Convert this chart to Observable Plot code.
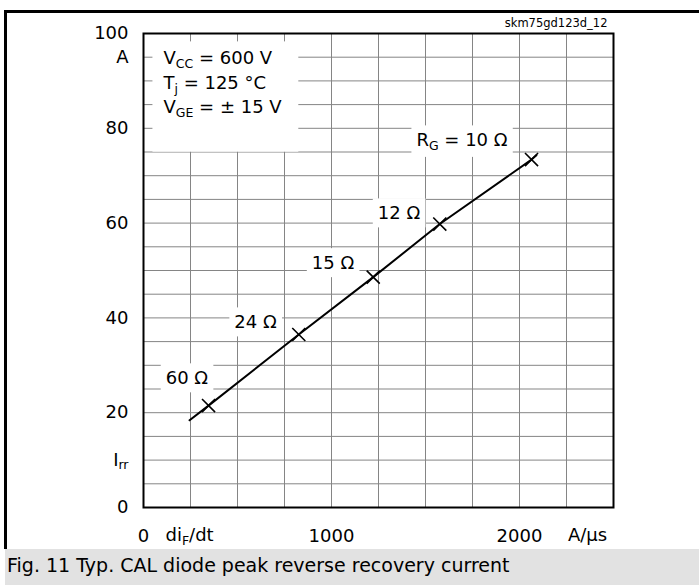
<!DOCTYPE html>
<html><head><meta charset="utf-8">
<script src="https://cdn.jsdelivr.net/npm/d3@7"></script>
<script src="https://cdn.jsdelivr.net/npm/@observablehq/plot@0.6"></script>
<style>
body{margin:0;background:#fff;}
#wrap{position:relative;width:699px;height:585px;overflow:hidden;font-family:"DejaVu Sans",sans-serif;}
#chart{position:absolute;left:0;top:0;}
#topline{position:absolute;left:4px;top:9.5px;width:695px;height:3px;background:#000;}
#leftline{position:absolute;left:4px;top:9.5px;width:2.5px;height:539.5px;background:#000;}
#caption{position:absolute;left:5px;top:549px;width:692px;height:36px;background:#e2e2e2;font-size:19px;line-height:33px;padding-left:2px;color:#000;white-space:nowrap;}
</style>
</head><body>
<div id="wrap">
  <div id="chart"></div>
  <div id="topline"></div>
  <div id="leftline"></div>
  <div id="caption">Fig. 11 Typ. CAL diode peak reverse recovery current</div>
</div>
<script>
// ---- data ----
const xTicks = [0, 1000, 2000];
const yTicks = [0, 20, 40, 60, 80, 100];
const xGrid = d3.range(0, 2501, 250);
const yGrid = d3.range(0, 101, 5);

// curve I_rr vs di_F/dt
const curveX = [245, 346, 826, 1222, 1576, 2064, 2090];
const curveY = [18.4, 21.5, 36.5, 48.6, 59.8, 73.4, 74.3];

// measured points (R_G values)
const rgPointX = [346, 826, 1222, 1576, 2064];
const rgPointY = [21.5, 36.5, 48.6, 59.8, 73.4];
const rgLabels = ["60 Ω", "24 Ω", "15 Ω", "12 Ω", "R_{G} = 10 Ω"];
const rgLabelX = [231, 596, 1008, 1359, 1694];
const rgLabelY = [27.2, 39.0, 51.5, 62.0, 77.4];

// conditions
const condLabels = ["V_{CC} = 600 V", "T_{j} = 125 °C", "V_{GE} = ± 15 V"];
const condX = [106, 106, 106];
const condY = [94.7, 89.5, 84.4];

// axis units
const yUnitLabels = ["A", "I_{rr}"];
const yUnitPos = [95, 10];
const xUnitLabels = ["di_{F}/dt", "A/µs"];
const xUnitPos = [245, 2362];

const docId = ["skm75gd123d_12"];

// ---- chart ----
const W = 699, H = 548;
const FS = 18;
const plot = Plot.plot({
  width: W, height: H,
  marginLeft: 143, marginRight: 86, marginTop: 33, marginBottom: 41,
  style: {fontFamily: "DejaVu Sans, sans-serif", fontSize: FS + "px", color: "#000", background: "transparent"},
  x: {domain: [0, 2500]},
  y: {domain: [0, 100]},
  marks: [
    Plot.ruleX(xGrid, {x: d => d, stroke: "#858585", strokeWidth: 1}),
    Plot.ruleY(yGrid, {y: d => d, stroke: "#858585", strokeWidth: 1}),
    Plot.text(condLabels, {x: condX, y: condY, text: d => d, textAnchor: "start", fontSize: FS, fill: "#000"}),
    Plot.text(rgLabels, {x: rgLabelX, y: rgLabelY, text: d => d, textAnchor: "middle", fontSize: FS, fill: "#000"}),
    Plot.line(curveX.map((x, i) => ({x, y: curveY[i]})), {x: "x", y: "y", stroke: "#000", strokeWidth: 2}),
    Plot.dot(rgPointX.map((x, i) => ({x, y: rgPointY[i]})), {x: "x", y: "y", symbol: "times", r: 6, stroke: "#000", strokeWidth: 1.6}),
    Plot.frame({stroke: "#000", strokeWidth: 2}),
    Plot.axisY(yTicks, {tickSize: 0, tickPadding: 15, fontSize: FS, label: null, tickFormat: "d"}),
    Plot.axisX(xTicks, {tickSize: 0, tickPadding: 22, fontSize: FS, label: null, tickFormat: "d"}),
    Plot.text(yUnitLabels, {y: yUnitPos, text: d => d, frameAnchor: "left", textAnchor: "end", dx: -15, fontSize: FS, fill: "#000"}),
    Plot.text(xUnitLabels, {x: xUnitPos, text: d => d, frameAnchor: "bottom", lineAnchor: "top", dy: 21, fontSize: FS, fill: "#000"}),
    Plot.text(docId, {text: d => d, frameAnchor: "top-right", textAnchor: "end", dx: -6, dy: -15, fontSize: 11.5, fill: "#000"})
  ]
});
document.getElementById("chart").append(plot);

const svg = plot.tagName.toLowerCase() === "svg" ? plot : plot.querySelector("svg");
const allTexts = Array.from(svg.querySelectorAll("text"));
const condNodes = allTexts.filter(n => condLabels.includes(n.textContent));
const rgNodes = allTexts.filter(n => rgLabels.includes(n.textContent));

// subscripts
allTexts.forEach(n => {
  const t = n.textContent;
  if (!t.includes("_{")) return;
  const parts = t.split(/(_\{[^}]*\})/).filter(s => s.length);
  n.textContent = "";
  let low = false;
  const ns = "http://www.w3.org/2000/svg";
  parts.forEach(p => {
    const ts = document.createElementNS(ns, "tspan");
    if (p.startsWith("_{")) {
      ts.textContent = p.slice(2, -1);
      ts.setAttribute("font-size", "12.5");
      ts.setAttribute("dy", "3.5");
      low = true;
    } else {
      ts.textContent = p;
      if (low) { ts.setAttribute("dy", "-3.5"); low = false; }
    }
    n.appendChild(ts);
  });
});

// white boxes behind annotations
const sr = svg.getBoundingClientRect();
function addBox(nodes, pl, pr, pt, pb) {
  let x0 = Infinity, y0 = Infinity, x1 = -Infinity, y1 = -Infinity;
  nodes.forEach(n => {
    const r = n.getBoundingClientRect();
    x0 = Math.min(x0, r.left - sr.left); y0 = Math.min(y0, r.top - sr.top);
    x1 = Math.max(x1, r.right - sr.left); y1 = Math.max(y1, r.bottom - sr.top);
  });
  const rect = document.createElementNS("http://www.w3.org/2000/svg", "rect");
  rect.setAttribute("x", x0 - pl); rect.setAttribute("y", y0 - pt);
  rect.setAttribute("width", x1 - x0 + pl + pr); rect.setAttribute("height", y1 - y0 + pt + pb);
  rect.setAttribute("fill", "#fff");
  const g = nodes[0].parentNode;
  g.parentNode.insertBefore(rect, g);
}
addBox(condNodes, 10, 16, 6, 32);
rgNodes.forEach(n => addBox([n], 5, 5, 4, 4));
</script>
</body></html>
